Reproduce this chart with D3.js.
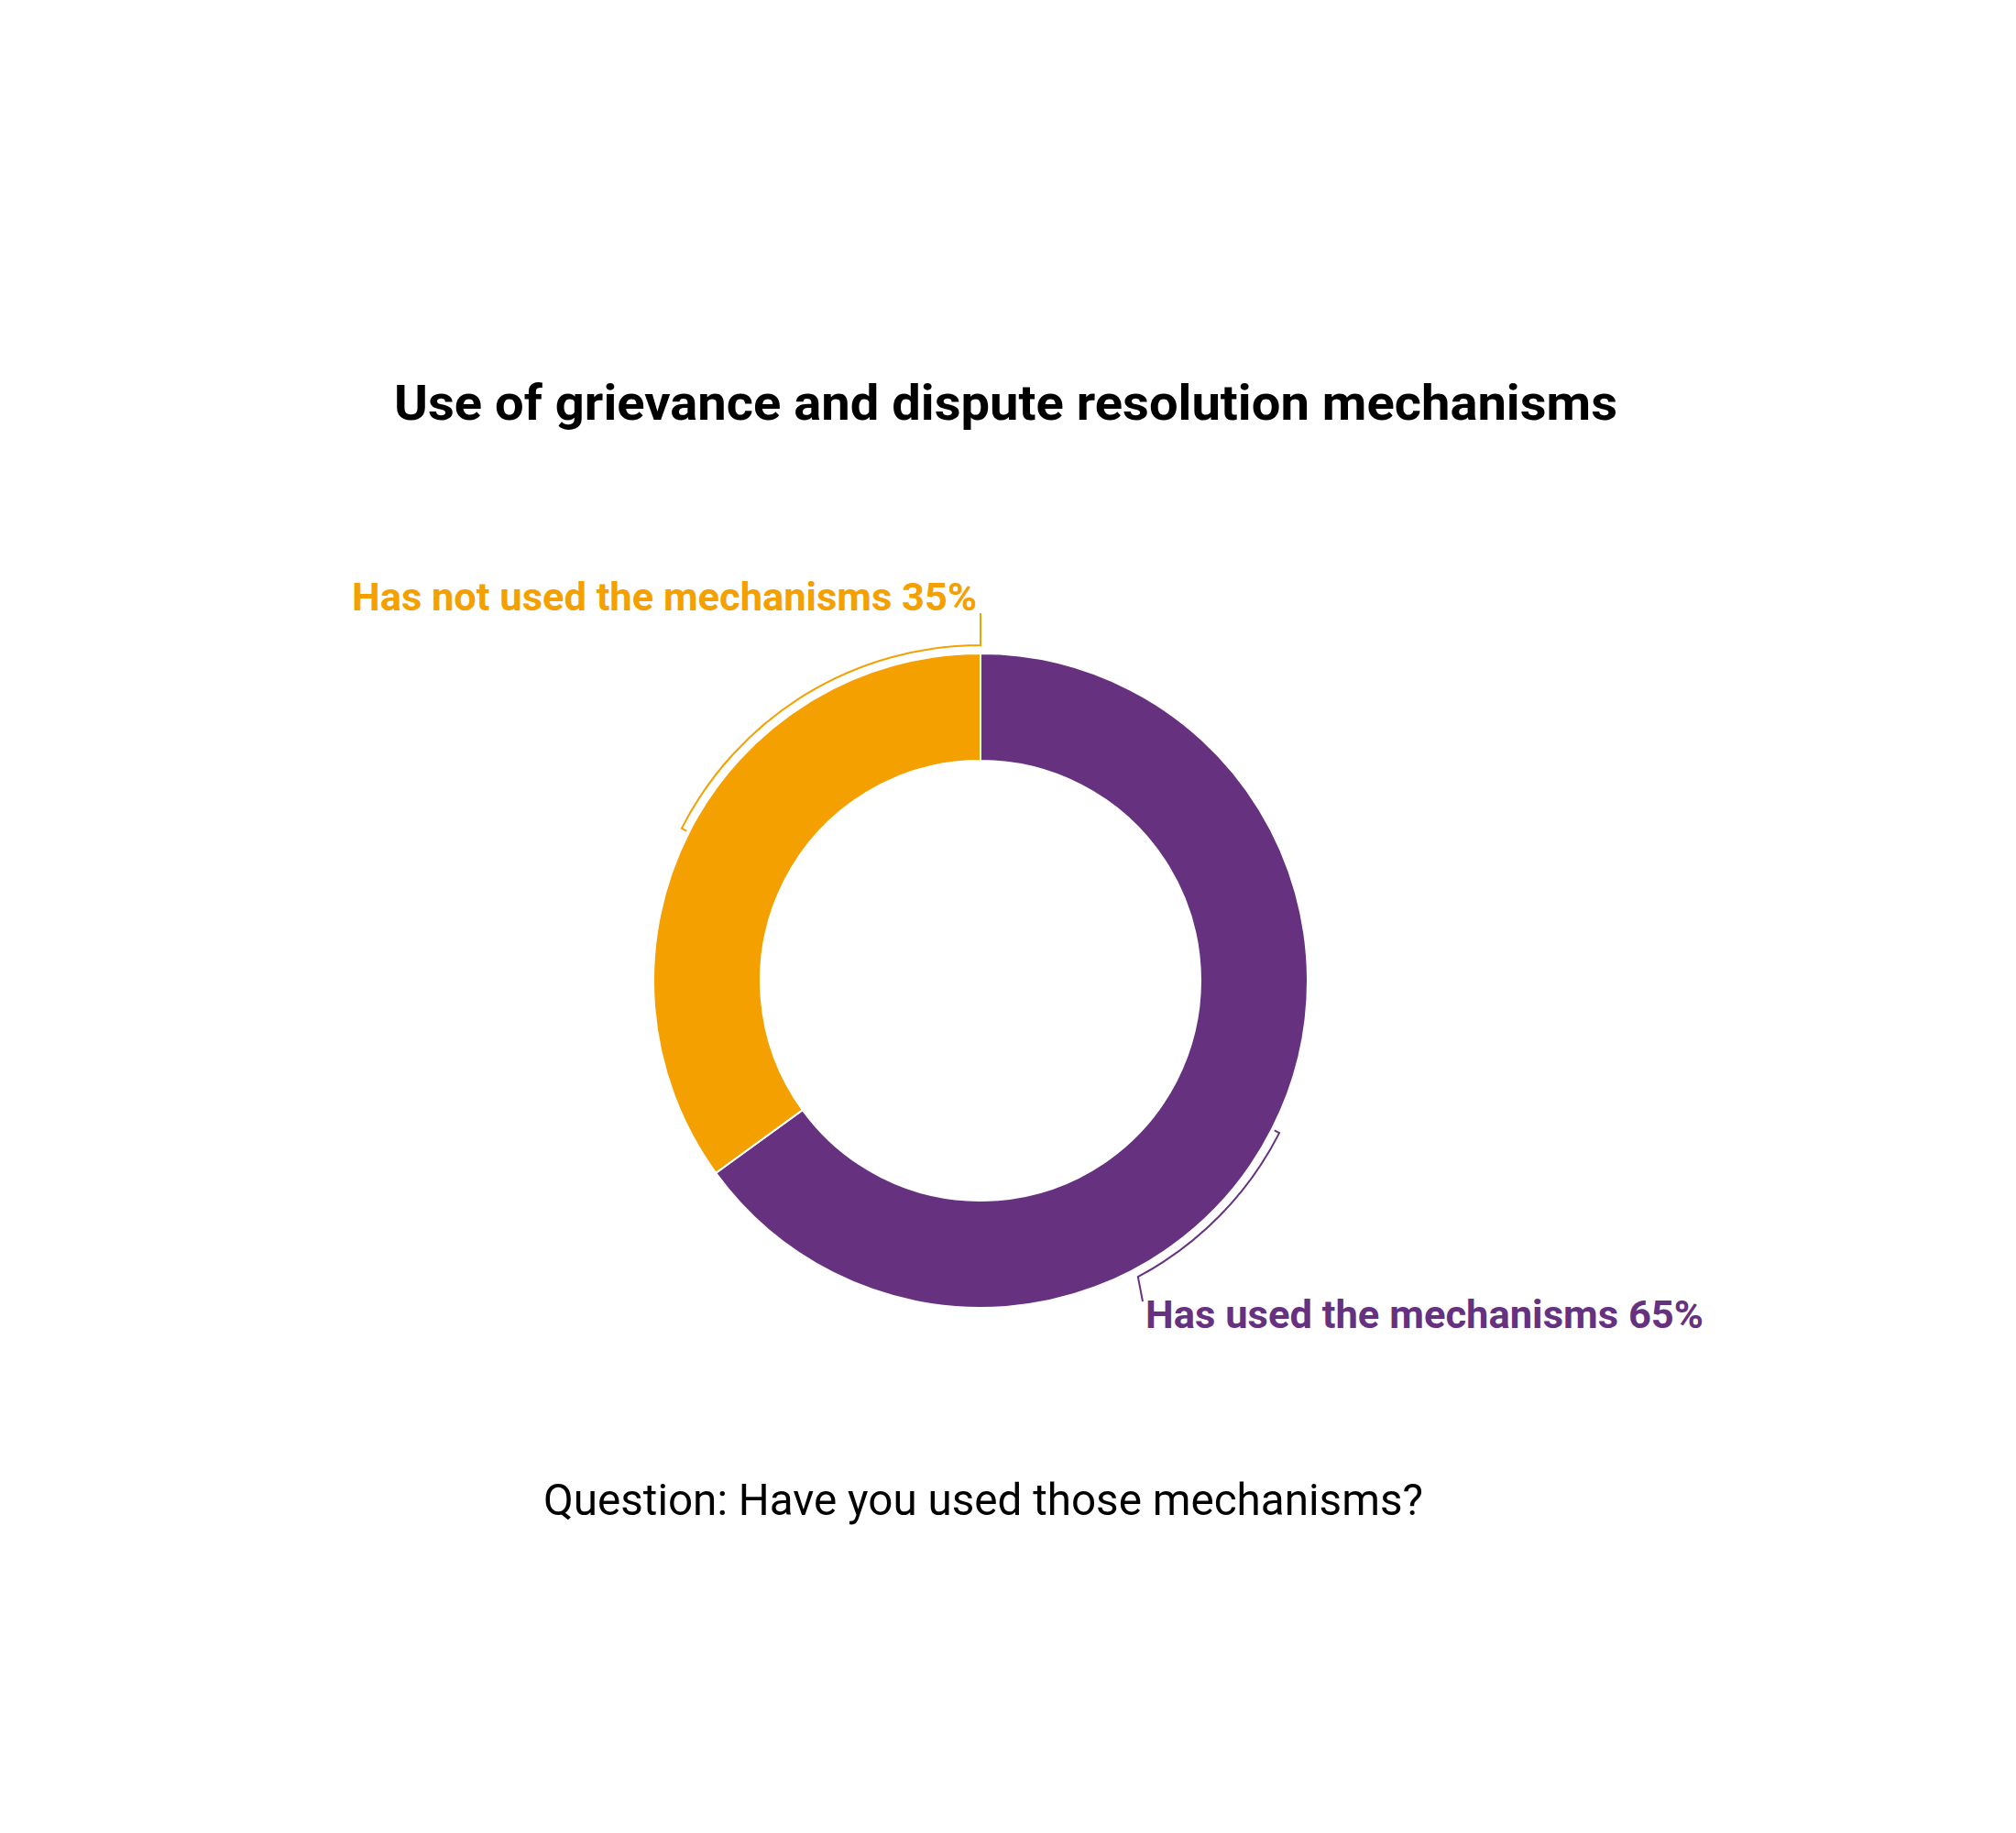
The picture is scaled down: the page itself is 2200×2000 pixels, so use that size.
<!doctype html>
<html>
<head>
<meta charset="utf-8">
<script src="https://d3js.org/d3.v7.min.js"></script>
<style>
  body { margin: 0; background: #fff; }
  text { font-family: Roboto, "Noto Sans", sans-serif; }
</style>
</head>
<body>
<script>
// data
var categories = ["Has used the mechanisms", "Has not used the mechanisms"];
var values = [65, 35];
var colors = ["#663280", "#f4a000"];

var title = "Use of grievance and dispute resolution mechanisms";
var question = "Question: Have you used those mechanisms?";

var width = 2200, height = 2000;
var cx = 1070, cy = 1070;
var outerR = 357, innerR = 240, bracketR = 366;

var svg = d3.select("body").append("svg")
    .attr("width", width)
    .attr("height", height);

var color = d3.scaleOrdinal().domain(categories).range(colors);

var pie = d3.pie().sort(null).value(function(d) { return d.value; });
var arcs = pie(categories.map(function(c, i) { return {name: c, value: values[i]}; }));

var arc = d3.arc().innerRadius(innerR).outerRadius(outerR);

var g = svg.append("g").attr("transform", "translate(" + cx + "," + cy + ")");

g.selectAll("path.slice")
    .data(arcs)
    .enter().append("path")
    .attr("class", "slice")
    .attr("d", arc)
    .attr("fill", function(d) { return color(d.data.name); })
    .attr("stroke", "#fff")
    .attr("stroke-width", 2);

// label layout: anchor angle where the bracket turns off to the label
var deg = Math.PI / 180;
var labelLayout = [
    {anchorAngle: 152 * deg, x: 1250, y: 1449, textAnchor: "start", end: [1247 - cx, 1420 - cy], len: 609},
    {anchorAngle: 360 * deg, x: 1066, y: 666, textAnchor: "end", end: [0, 669 - cy], len: 682}
];

function pt(r, a) { return [r * Math.sin(a), -r * Math.cos(a)]; }

arcs.forEach(function(d, i) {
    var L = labelLayout[i];
    var mid = (d.startAngle + d.endAngle) / 2;
    var p = d3.path();
    var t0 = pt(bracketR - 6, mid), t1 = pt(bracketR, mid);
    p.moveTo(t0[0], t0[1]);
    p.lineTo(t1[0], t1[1]);
    p.arc(0, 0, bracketR, mid - Math.PI / 2, L.anchorAngle - Math.PI / 2, L.anchorAngle < mid);
    p.lineTo(L.end[0], L.end[1]);
    g.append("path")
        .attr("d", p.toString())
        .attr("fill", "none")
        .attr("stroke", color(d.data.name))
        .attr("stroke-width", 2);

    svg.append("text")
        .attr("x", L.x)
        .attr("y", L.y)
        .attr("text-anchor", L.textAnchor)
        .attr("font-size", 43)
        .attr("font-weight", "bold")
        .attr("fill", color(d.data.name))
        .attr("textLength", L.len)
        .attr("lengthAdjust", "spacingAndGlyphs")
        .text(d.data.name + " " + d.data.value + "%");
});

svg.append("text")
    .attr("x", 430)
    .attr("y", 458)
    .attr("font-size", 54)
    .attr("font-weight", "bold")
    .attr("fill", "#000")
    .attr("textLength", 1335)
    .attr("lengthAdjust", "spacingAndGlyphs")
    .text(title);

svg.append("text")
    .attr("x", 593)
    .attr("y", 1653)
    .attr("font-size", 49)
    .attr("fill", "#000")
    .attr("textLength", 960)
    .attr("lengthAdjust", "spacingAndGlyphs")
    .text(question);
</script>
</body>
</html>
